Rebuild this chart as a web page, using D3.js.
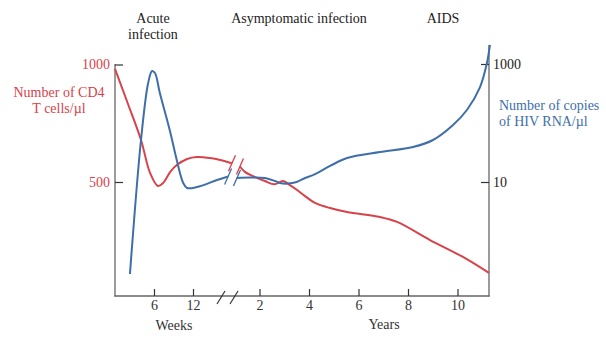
<!DOCTYPE html>
<html>
<head>
<meta charset="utf-8">
<script src="https://cdn.jsdelivr.net/npm/d3@7/dist/d3.min.js"></script>
<style>
  html, body { margin: 0; padding: 0; background: #fff; }
  svg { display: block; }
  text { font-family: "Liberation Serif", "Times New Roman", serif; }
</style>
</head>
<body>
<svg id="chart" width="606" height="339"></svg>
<script>
// ---- Data ----
// CD4 count (cells/µl), left axis, early phase in weeks
const cd4Weeks = [0, 2, 4, 5.4, 6.6, 7.4, 8.5, 9.5, 11.1, 12.6, 14.6, 16.2, 18];
const cd4WeeksVal = [981, 832, 679, 538, 483, 496, 543, 572, 598, 606, 602, 594, 580];
// CD4 count, later phase in years
const cd4Years = [1.21, 1.41, 1.82, 2.22, 2.6, 2.95, 3.23, 3.52, 3.84, 4.24, 4.85, 5.54, 6.87, 7.56, 8.89, 10.22, 11.27];
const cd4YearsVal = [566, 543, 521, 504, 490, 504, 487, 466, 440, 411, 389, 372, 351, 330, 253, 181, 113];
// HIV RNA copies/µl, right (log) axis, early phase in weeks
const rnaWeeks = [2.3, 4, 5.1, 5.7, 6.15, 6.9, 8.5, 9.5, 10.5, 11.1, 12.6, 15.7, 17.4];
const rnaWeeksVal = [0.276, 51.5, 476, 761, 703, 322, 70, 23.6, 9.6, 7.9, 8.2, 10.8, 12.4];
// HIV RNA, later phase in years
const rnaYears = [1.09, 1.62, 2.22, 2.63, 2.83, 3.15, 3.5, 3.84, 4.16, 4.85, 5.54, 6.87, 8.2, 9.01, 9.82, 10.38, 10.91, 11.19, 11.31];
const rnaYearsVal = [11.7, 11.9, 11.7, 10.4, 9.6, 9.4, 10, 11.7, 13.1, 18.7, 25.5, 32.2, 39.2, 51.5, 92.5, 166, 407, 1040, 2100];

const weekTicks = [6, 12];
const yearTicks = [2, 4, 6, 8, 10];
const cd4Ticks = [500, 1000];
const rnaTicks = [10, 1000];

const phaseLabels = [
  { lines: ["Acute", "infection"], x: 153 },
  { lines: ["Asymptomatic infection"], x: 299 },
  { lines: ["AIDS"], x: 443 }
];

const RED = "#d8424a";
const BLUE = "#3e6fa9";
const AXIS = "#666";

// ---- Scales ----
const xW = d3.scaleLinear().domain([0, 12]).range([115, 193]);
const xY = d3.scaleLinear().domain([2, 10]).range([259.5, 457.5]);
const yL = d3.scaleLinear().domain([500, 1000]).range([182, 64.5]);
const yR = d3.scaleLog().domain([10, 1000]).range([182, 64]);

const svg = d3.select("#chart");
const FS = 14;

// ---- Axes lines ----
const axisG = svg.append("g").attr("stroke", AXIS).attr("stroke-width", 1.3).attr("fill", "none");
axisG.append("line").attr("x1", 115).attr("x2", 115).attr("y1", 64).attr("y2", 296.5);
axisG.append("line").attr("x1", 489).attr("x2", 489).attr("y1", 45).attr("y2", 296.5);
axisG.append("line").attr("x1", 114.4).attr("x2", 489.6).attr("y1", 296).attr("y2", 296);

function styleAxis(g, color) {
  g.select(".domain").remove();
  g.selectAll(".tick line").attr("stroke", "#333").attr("stroke-width", 1.2);
  g.selectAll(".tick text")
    .attr("fill", color)
    .style("font-size", FS + "px")
    .style("font-family", '"Liberation Serif", "Times New Roman", serif');
}

svg.append("g").attr("transform", "translate(115,0)")
  .call(d3.axisLeft(yL).tickValues(cd4Ticks).tickSize(-8).tickPadding(5).tickFormat(d3.format("d")))
  .call(g => styleAxis(g, RED));

svg.append("g").attr("transform", "translate(489,0)")
  .call(d3.axisRight(yR).tickValues(rnaTicks).tickSize(-8).tickPadding(4).tickFormat(d3.format("d")))
  .call(g => styleAxis(g, "#222"));

svg.append("g").attr("transform", "translate(0,296)")
  .call(d3.axisBottom(xW).tickValues(weekTicks).tickSize(-7).tickPadding(4))
  .call(g => styleAxis(g, "#333"));

svg.append("g").attr("transform", "translate(0,296)")
  .call(d3.axisBottom(xY).tickValues(yearTicks).tickSize(-7).tickPadding(4))
  .call(g => styleAxis(g, "#333"));

// axis break marks
[[217, 225], [230, 238]].forEach(([a, b]) => {
  svg.append("line").attr("x1", a).attr("y1", 304).attr("x2", b).attr("y2", 291)
    .attr("stroke", "#333").attr("stroke-width", 1.2);
});

// ---- Curves ----
const line = d3.line().curve(d3.curveCatmullRom.alpha(0.5));

function drawSeries(ts, vs, xs, ys, color) {
  const pts = ts.map((t, i) => [xs(t), ys(vs[i])]);
  svg.append("path").attr("d", line(pts))
    .attr("fill", "none").attr("stroke", color).attr("stroke-width", 2)
    .attr("stroke-linejoin", "round");
  return pts;
}

function slash(p, color) {
  svg.append("line")
    .attr("x1", p[0] - 3.5).attr("y1", p[1] + 8)
    .attr("x2", p[0] + 3.5).attr("y2", p[1] - 8)
    .attr("stroke", color).attr("stroke-width", 1.3);
}

const r1 = drawSeries(cd4Weeks, cd4WeeksVal, xW, yL, RED);
const r2 = drawSeries(cd4Years, cd4YearsVal, xY, yL, RED);
const b1 = drawSeries(rnaWeeks, rnaWeeksVal, xW, yR, BLUE);
const b2 = drawSeries(rnaYears, rnaYearsVal, xY, yR, BLUE);

slash(r1[r1.length - 1], RED);
slash(r2[0], RED);
slash(b1[b1.length - 1], BLUE);
slash(b2[0], BLUE);

// ---- Labels ----
const txt = (x, y, s, anchor, color) =>
  svg.append("text").attr("x", x).attr("y", y).attr("text-anchor", anchor)
    .attr("fill", color).style("font-size", FS + "px").text(s);

phaseLabels.forEach(p => {
  p.lines.forEach((l, i) => txt(p.x, 23 + i * 16, l, "middle", "#222"));
});

txt(59, 97, "Number of CD4", "middle", RED);
txt(59, 113, "T cells/µl", "middle", RED);

txt(499, 110, "Number of copies", "start", BLUE);
txt(499, 126, "of HIV RNA/µl", "start", BLUE);

txt(174, 330, "Weeks", "middle", "#333");
txt(384, 329, "Years", "middle", "#333");
</script>
</body>
</html>
